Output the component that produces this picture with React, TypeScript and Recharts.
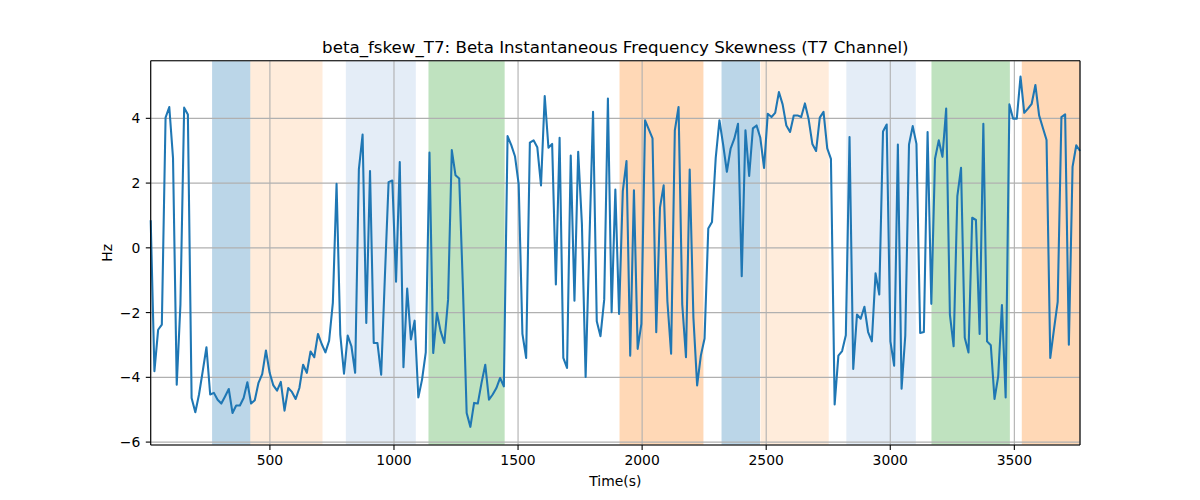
import React from 'react';
import { LineChart, Line, XAxis, YAxis, ReferenceArea, CartesianGrid } from 'recharts';

// sampling of the skewness trace (seconds)
const T0 = 19.6;
const DT = 14.98;

// beta frequency skewness, Hz
const skew = [
  0.85, -3.81, -2.53, -2.37, 4.02, 4.35, 2.78, -4.23, -1.75, 4.33,
  4.12, -4.64, -5.08, -4.53, -3.81, -3.07, -4.53, -4.48, -4.69, -4.81,
  -4.59, -4.36, -5.1, -4.87, -4.87, -4.64, -4.15, -4.81, -4.71, -4.17,
  -3.9, -3.17, -3.86, -4.25, -4.41, -4.14, -5.03, -4.33, -4.45, -4.67,
  -4.33, -3.61, -3.86, -3.2, -3.38, -2.66, -2.97, -3.23, -2.87, -1.7,
  1.98, -2.68, -3.89, -2.71, -3.04, -3.86, 2.42, 3.5, -2.32, 2.37,
  -2.94, -2.94, -3.92, -0.9, 2.03, 2.08, -1.05, 2.65, -3.69, -1.26,
  -2.83, -2.25, -4.62, -4.07, -3.23, 2.94, -3.25, -2.01, -2.58, -2.94,
  -1.6, 3.02, 2.24, 2.14, -1.24, -5.1, -5.53, -4.79, -4.81, -4.17,
  -3.61, -4.69, -4.53, -4.33, -4.02, -4.28, 3.45, 3.17, 2.83, 1.96,
  -2.66, -3.4, 3.25, 3.32, 3.11, 1.93, 4.69, 3.09, 3.21, -1.13,
  3.4, -3.4, -3.71, 2.85, -1.63, 2.97, 0.74, -3.99, 0.1, 4.2,
  -2.27, -2.73, -1.6, 4.61, -1.99, 1.8, -2.04, 1.75, 2.68, -3.33,
  1.78, -3.12, -2.35, 3.94, 3.66, 3.38, -2.61, 1.24, 1.93, -1.65,
  -3.27, 3.63, 4.35, -1.75, -3.38, 2.42, -2.16, -4.25, -3.33, -2.8,
  0.6, 0.8, 2.78, 3.94, 3.19, 2.35, 3.06, 3.37, 3.83, -0.88,
  3.63, 2.22, 3.69, 3.78, 3.4, 2.47, 4.14, 4.04, 4.17, 4.81,
  4.43, 3.78, 3.58, 4.09, 4.09, 4.04, 4.46, 3.97, 3.21, 2.99,
  4.02, 4.2, 3.07, 2.75, -4.84, -3.33, -3.19, -2.7, 3.42, -3.74,
  -2.06, -2.19, -1.82, -2.6, -2.89, -0.79, -1.44, 3.59, 3.81, -2.89,
  -3.64, 3.19, -4.35, -2.71, 3.19, 3.76, 3.21, -2.63, -2.6, 3.58,
  -1.73, 2.75, 3.32, 2.81, 4.3, -2.06, -3.04, 1.6, 2.47, -2.78,
  -3.23, 0.93, 0.86, -2.66, 3.83, -2.89, -3.01, -4.67, -3.97, -1.77,
  -4.62, 4.43, 3.99, 3.99, 5.29, 4.17, 4.3, 4.45, 5.03, 4.09,
  3.71, 3.33, -3.4, -2.52, -1.67, 4.04, 4.12, -2.99, 2.5, 3.17,
  2.99,
];

// shaded segments: start, end (s) and which phase they belong to
const segStart = [267, 421, 806, 1139, 1909, 2320, 2477, 2823, 3166, 3530];
const segEnd = [421, 712, 1088, 1446, 2247, 2475, 2752, 3103, 3482, 3765];
const segPhase = [0, 1, 2, 3, 4, 0, 1, 2, 3, 4];

const xTicks = [500, 1000, 1500, 2000, 2500, 3000, 3500];
const yTicks = [-6, -4, -2, 0, 2, 4];

// colour per phase (tab10 with alpha, like axvspan)
const phaseFill = ['#1f77b4', '#ff7f0e', '#aec7e8', '#2ca02c', '#ff7f0e'];
const phaseAlpha = [0.3, 0.15, 0.33, 0.3, 0.3];

const data = skew.map((v, i) => ({ t: Math.round((T0 + DT * i) * 10) / 10, v }));

const FONT = '"DejaVu Sans", sans-serif';
const minus = (n: number) => String(n).replace('-', '\u2212');

// plot box (px) for the overlay: title, labels, top/right spines
const L = 150.7, R = 1080, TOP = 60.7, BOT = 445;
const MARGIN = { top: TOP, right: 1200 - R, bottom: 25, left: L - 60 };
const tickStyle = { fill: '#000', fontSize: 13.9, fontFamily: FONT };

// shared axes so both layers get the same plot box
function axes(visible: boolean) {
  return [
    <XAxis
      key="x"
      dataKey="t"
      type="number"
      domain={['dataMin', 'dataMax']}
      ticks={xTicks}
      height={30}
      stroke="#000"
      strokeWidth={1.1}
      axisLine={visible}
      tickLine={visible}
      tickSize={4.9}
      tickMargin={5}
      tick={visible ? tickStyle : false}
    />,
    <YAxis
      key="y"
      type="number"
      domain={[-6.09, 5.78]}
      allowDataOverflow
      ticks={yTicks}
      width={60}
      stroke="#000"
      strokeWidth={1.1}
      axisLine={visible}
      tickLine={visible}
      tickSize={4.9}
      tickMargin={5.5}
      tickFormatter={minus}
      tick={visible ? tickStyle : false}
    />,
  ];
}

const layer: React.CSSProperties = { position: 'absolute', left: 0, top: 0 };

export default function App() {
  return (
    <div style={{ position: 'absolute', left: 0, top: 0, width: 1200, height: 500, background: '#fff' }}>
      {/* bottom layer: shaded spans */}
      <div style={layer}>
        <LineChart width={1200} height={500} data={data} margin={MARGIN}>
          {axes(false)}
          {segStart.map((s, i) => (
            <ReferenceArea
              key={'seg' + i}
              x1={s}
              x2={segEnd[i]}
              ifOverflow="hidden"
              fill={phaseFill[segPhase[i]]}
              fillOpacity={phaseAlpha[segPhase[i]]}
              stroke="none"
            />
          ))}
        </LineChart>
      </div>
      {/* top layer: grid, axes and the trace */}
      <div style={layer}>
        <LineChart width={1200} height={500} data={data} margin={MARGIN}>
          <CartesianGrid stroke="#b0b0b0" strokeWidth={1.1} />
          {axes(true)}
          <Line
            type="linear"
            dataKey="v"
            stroke="#1f77b4"
            strokeWidth={2.08}
            strokeLinejoin="round"
            dot={false}
            activeDot={false}
            isAnimationActive={false}
          />
        </LineChart>
      </div>
      <svg width={1200} height={500} style={{ ...layer, pointerEvents: 'none' }}>
        <line x1={L} y1={TOP} x2={R} y2={TOP} stroke="#000" strokeWidth={1.1} />
        <line x1={R} y1={TOP} x2={R} y2={BOT} stroke="#000" strokeWidth={1.1} />
        <text x={(L + R) / 2} y={52.7} textAnchor="middle" fontFamily={FONT} fontSize={16.67} fill="#000">
          beta_fskew_T7: Beta Instantaneous Frequency Skewness (T7 Channel)
        </text>
        <text x={(L + R) / 2} y={486} textAnchor="middle" fontFamily={FONT} fontSize={13.9} fill="#000">
          Time(s)
        </text>
        <text
          x={111.7}
          y={(TOP + BOT) / 2}
          textAnchor="middle"
          fontFamily={FONT}
          fontSize={13.9}
          fill="#000"
          transform={`rotate(-90 111.7 ${(TOP + BOT) / 2})`}
        >
          Hz
        </text>
      </svg>
    </div>
  );
}
